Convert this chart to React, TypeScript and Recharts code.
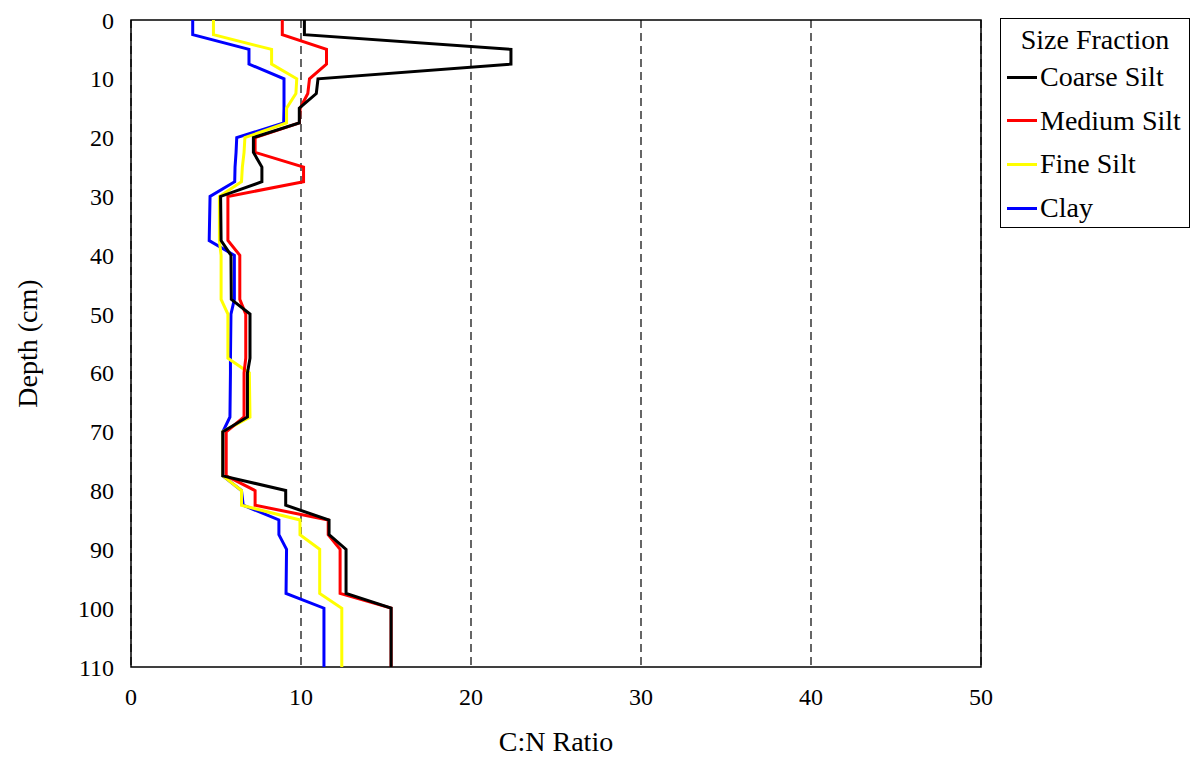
import { LineChart, Line, XAxis, YAxis, CartesianGrid, usePlotArea } from 'recharts';

// Sample depths (cm): each core section is plotted as a flat run with a sloped join to the next one
const depths = [0, 2.5, 5, 7.5, 10, 12.5, 15, 17.5, 20, 22.5, 25, 27.5, 30, 37.5, 40, 47.5, 50, 57.5, 60, 67.5, 70, 77.5, 80, 82.5, 85, 87.5, 90, 97.5, 100, 110];

// C:N ratio per size fraction, one value per depth above
const coarseSilt = [10.2, 10.2, 22.35, 22.35, 11.0, 10.9, 9.9, 9.9, 7.2, 7.2, 7.7, 7.7, 5.27, 5.3, 5.88, 5.9, 7.0, 7.0, 6.85, 6.85, 5.4, 5.4, 9.1, 9.1, 11.65, 11.65, 12.65, 12.65, 15.3, 15.3];
const mediumSilt = [8.9, 8.9, 11.5, 11.5, 10.5, 10.4, 9.95, 9.9, 7.3, 7.3, 10.15, 10.15, 5.7, 5.7, 6.4, 6.4, 6.75, 6.75, 6.65, 6.65, 5.6, 5.6, 7.3, 7.3, 11.6, 11.6, 12.3, 12.3, 15.3, 15.3];
const fineSilt = [4.85, 4.85, 8.27, 8.27, 9.75, 9.7, 9.15, 9.15, 6.7, 6.65, 6.55, 6.5, 5.2, 5.2, 5.3, 5.3, 5.7, 5.7, 6.96, 7.0, 5.4, 5.4, 6.5, 6.5, 9.94, 9.94, 11.1, 11.1, 12.4, 12.4];
const clay = [3.63, 3.63, 6.94, 6.94, 9.0, 9.0, 9.0, 8.98, 6.22, 6.18, 6.12, 6.1, 4.65, 4.6, 6.08, 6.08, 5.88, 5.85, 5.85, 5.82, 5.4, 5.4, 6.5, 6.6, 8.7, 8.7, 9.15, 9.12, 11.35, 11.35];

const xTicks = [0, 10, 20, 30, 40, 50];
const yTicks = [0, 10, 20, 30, 40, 50, 60, 70, 80, 90, 100, 110];

const fractions = [
  { key: 'coarse', name: 'Coarse Silt', color: '#000000', values: coarseSilt },
  { key: 'medium', name: 'Medium Silt', color: '#ff0000', values: mediumSilt },
  { key: 'fine', name: 'Fine Silt', color: '#ffff00', values: fineSilt },
  { key: 'clay', name: 'Clay', color: '#0000ff', values: clay },
];

const rows = depths.map((depth, i) => {
  const row: Record<string, number> = { depth };
  fractions.forEach((f) => {
    row[f.key] = f.values[i];
  });
  return row;
});

const FONT = "'Liberation Serif', 'Times New Roman', serif";
const W = 1182;
const H = 749;
const PLOT_RIGHT = 973;
const PLOT_BOTTOM = 659;

function PlotFrame() {
  const plot = usePlotArea();
  if (!plot) return null;
  return (
    <rect
      x={plot.x}
      y={plot.y}
      width={plot.width}
      height={plot.height}
      fill="none"
      stroke="#000"
      strokeWidth={1.5}
    />
  );
}

function SizeLegend() {
  return (
    <div
      style={{
        position: 'absolute',
        left: 992,
        top: 10,
        width: 190,
        height: 210,
        border: '1.5px solid #000',
        boxSizing: 'border-box',
        background: '#fff',
        fontFamily: FONT,
        fontSize: 28,
        color: '#000',
      }}
    >
      <div style={{ position: 'absolute', left: 0, right: 0, top: 21 - 16, lineHeight: '32px', textAlign: 'center' }}>
        Size Fraction
      </div>
      {fractions.map((f, i) => (
        <div
          key={f.key}
          style={{
            position: 'absolute',
            left: 6,
            top: 58 + i * 43.7 - 16,
            height: 32,
            display: 'flex',
            alignItems: 'center',
            whiteSpace: 'nowrap',
          }}
        >
          <span style={{ display: 'inline-block', width: 30, height: 3, background: f.color, marginRight: 3 }} />
          <span style={{ lineHeight: '32px' }}>{f.name}</span>
        </div>
      ))}
    </div>
  );
}

export default function App() {
  return (
    <div style={{ position: 'relative', width: W, height: H, background: '#fff' }}>
      <LineChart
        width={W}
        height={H}
        data={rows}
        layout="vertical"
        margin={{ top: 12, right: W - PLOT_RIGHT, left: 0, bottom: 0 }}
      >
        <CartesianGrid horizontal={false} stroke="#000" strokeDasharray="8 5" strokeWidth={1.2} />
        <XAxis
          type="number"
          domain={[0, 50]}
          ticks={xTicks}
          interval={0}
          height={H - PLOT_BOTTOM}
          axisLine={false}
          tickLine={false}
          tickSize={0}
          tickMargin={21}
          tick={{ fill: '#000', fontSize: 24, fontFamily: FONT }}
          label={{
            value: 'C:N Ratio',
            position: 'insideBottom',
            offset: 6,
            style: { fill: '#000', fontSize: 28, fontFamily: FONT },
          }}
        />
        <YAxis
          type="number"
          dataKey="depth"
          domain={[0, 110]}
          ticks={yTicks}
          interval={0}
          width={123}
          axisLine={false}
          tickLine={false}
          tickSize={0}
          tickMargin={17}
          tick={{ fill: '#000', fontSize: 24, fontFamily: FONT }}
          label={{
            value: 'Depth (cm)',
            angle: -90,
            position: 'insideLeft',
            offset: 19,
            style: { fill: '#000', fontSize: 28, fontFamily: FONT, textAnchor: 'middle' },
          }}
        />
        {[...fractions].reverse().map((f) => (
          <Line
            key={f.key}
            dataKey={f.key}
            name={f.name}
            type="linear"
            stroke={f.color}
            strokeWidth={3}
            dot={false}
            activeDot={false}
            isAnimationActive={false}
          />
        ))}
        <PlotFrame />
      </LineChart>
      <SizeLegend />
    </div>
  );
}
